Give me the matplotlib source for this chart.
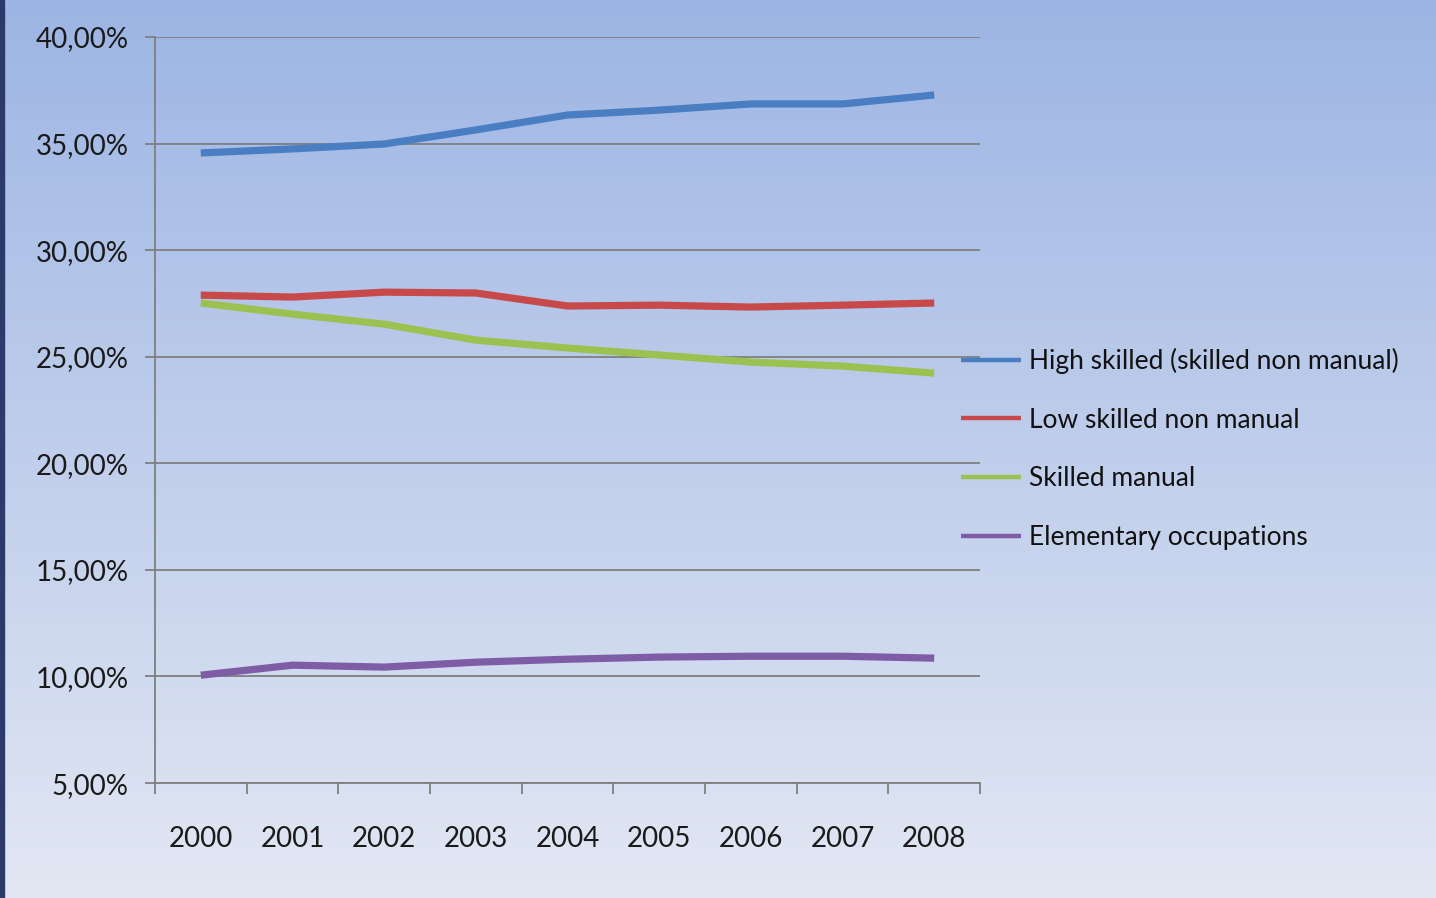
import numpy as np
import matplotlib.pyplot as plt
from matplotlib.ticker import FixedLocator, FuncFormatter

# values (percent)
years = ["2000", "2001", "2002", "2003", "2004", "2005", "2006", "2007", "2008"]
high_skilled = [34.56, 34.75, 34.98, 35.64, 36.34, 36.57, 36.86, 36.86, 37.28]
low_skilled = [27.89, 27.80, 28.03, 27.99, 27.38, 27.42, 27.33, 27.42, 27.52]
skilled_manual = [27.52, 27.00, 26.53, 25.78, 25.41, 25.08, 24.75, 24.56, 24.23]
elementary = [10.06, 10.53, 10.44, 10.67, 10.81, 10.91, 10.95, 10.95, 10.86]

series = [
    ("High skilled (skilled non manual)", high_skilled, "#4A7EC2"),
    ("Low skilled non manual", low_skilled, "#C8494A"),
    ("Skilled manual", skilled_manual, "#9BC250"),
    ("Elementary occupations", elementary, "#7E5DA6"),
]

plt.rcParams["font.family"] = ["Lato", "DejaVu Sans"]

fig = plt.figure(figsize=(14.36, 8.98), dpi=100)

# background gradient (blue at top, pale at bottom)
bg = fig.add_axes([0, 0, 1, 1], zorder=-10)
top = np.array([157, 181, 228]) / 255
bottom = np.array([226, 231, 243]) / 255
t = np.linspace(0, 1, 256)[:, None]
grad = top[None, :] * (1 - t) + bottom[None, :] * t
bg.imshow(grad[:, None, :], aspect="auto", extent=[0, 1, 0, 1])
bg.axis("off")
# thin dark strip on the left edge
fig.patches.append(plt.Rectangle((0, 0), 0.0025, 1, transform=fig.transFigure,
                                 color="#2B3A6B", zorder=5))

ax = fig.add_axes([0.1079, 0.128, 0.6825 - 0.1079, 0.9588 - 0.128])
ax.set_facecolor("none")

x = np.arange(len(years))
for label, vals, color in series:
    ax.plot(x, vals, color=color, lw=5.2, label=label, solid_capstyle="butt",
            solid_joinstyle="round")

ax.set_xlim(-0.5, len(years) - 0.5)
ax.set_ylim(5, 40)

ax.set_yticks(np.arange(5, 41, 5))
ax.yaxis.set_major_formatter(FuncFormatter(lambda v, p: f"{v:.2f}%".replace(".", ",")))
ax.grid(axis="y", color="#7F7F7F", lw=1.3)
ax.set_axisbelow(True)

ax.xaxis.set_major_locator(FixedLocator(np.arange(-0.5, len(years), 1.0)))
ax.xaxis.set_major_formatter(FuncFormatter(lambda v, p: ""))
ax.xaxis.set_minor_locator(FixedLocator(x))
ax.set_xticklabels(years, minor=True)
ax.tick_params(axis="x", which="major", length=8, width=1.3, color="#7F7F7F", direction="out")
ax.tick_params(axis="x", which="minor", length=0, pad=31, labelsize=20, labelcolor="#1A1A1A")
ax.tick_params(axis="y", length=7, width=1.3, color="#7F7F7F", labelsize=20,
               labelcolor="#1A1A1A", pad=12)

for side in ["top", "right"]:
    ax.spines[side].set_visible(False)
for side in ["left", "bottom"]:
    ax.spines[side].set_color("#7F7F7F")
    ax.spines[side].set_linewidth(1.3)

leg = fig.legend(loc="center left", bbox_to_anchor=(0.653, 0.5), frameon=False,
                 fontsize=19, handlelength=2.27, handletextpad=0.3, labelspacing=1.28,
                 labelcolor="#111111")
for h in leg.legend_handles:
    h.set_linewidth(3.2)

fig.savefig("out.png", dpi=100)
